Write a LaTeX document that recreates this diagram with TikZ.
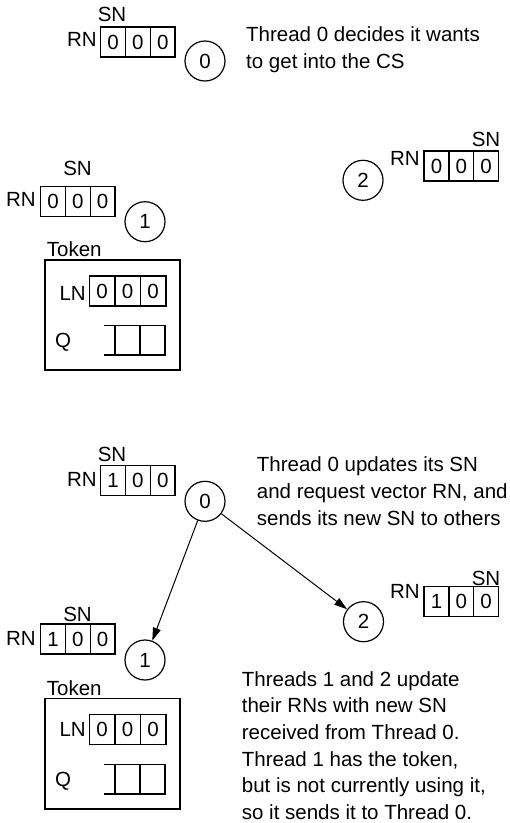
\documentclass[tikz,border=0pt]{standalone}
\usepackage{fontspec}
\setmainfont{Liberation Sans}
\usetikzlibrary{positioning,arrows.meta}
\begin{document}
\begin{tikzpicture}[x=1pt,y=-1pt,
  every node/.style={font=\fontsize{20.5}{26.7}\selectfont},
  cell/.style={draw,line width=1.5pt,minimum width=24.8pt,minimum height=30pt,inner sep=0pt,outer sep=0pt},
  lncell/.style={cell,minimum width=25.5pt},
  qcell/.style={cell,minimum width=25pt,minimum height=29.5pt},
  lab/.style={inner sep=0pt},
  thr/.style={draw,circle,line width=1.2pt,minimum size=40pt,inner sep=0pt},
  tokbox/.style={draw,line width=1.5pt,minimum width=135pt,inner sep=0pt},
  note/.style={inner sep=0pt,align=left,anchor=base west},
  msg/.style={line width=1pt,-{Triangle[length=13pt,width=8pt]}}
]
\useasboundingbox (0,0) rectangle (510,823);

% ===== Top half =====
% Thread 0
\node[lab,anchor=base] (sn0) at (112,21.7) {SN};
\node[lab,anchor=base east] (rn0) at (97,46.7) {RN};
\node[cell] (r0a) at (113.1,42) {0};
\node[cell,right=0pt of r0a] (r0b) {0};
\node[cell,right=0pt of r0b] (r0c) {0};
\node[thr] (c0) at (205,61) {0};
% anchor is the baseline of the last line
\node[note] (txt1) at (246,68.4) {Thread 0 decides it wants\\to get into the CS};

% Thread 1
\node[lab,anchor=base] (sn1) at (77.5,175) {SN};
\node[lab,anchor=base east] (rn1) at (36,206.7) {RN};
\node[cell] (r1a) at (53.1,201.7) {0};
\node[cell,right=0pt of r1a] (r1b) {0};
\node[cell,right=0pt of r1b] (r1c) {0};
\node[thr] (c1) at (145,221.7) {1};
\node[lab,anchor=base west] (tok1) at (46.7,256) {Token};
\node[tokbox,minimum height=110pt] (box1) at (112.5,315) {};
\node[lab,anchor=base east] (ln1) at (86,300) {LN};
\node[lncell] (l1a) at (102,291) {0};
\node[lncell,right=0pt of l1a] (l1b) {0};
\node[lncell,right=0pt of l1b] (l1c) {0};
\node[lab,anchor=base west] (q1) at (55,347) {Q};
\node[qcell] (q1a) at (127.5,340.3) {};
\node[qcell,right=0pt of q1a] (q1b) {};
\draw[line width=1.5pt] ([xshift=-11pt]q1a.north west) -- (q1a.north west);
\draw[line width=1.5pt] ([xshift=-11pt]q1a.south west) -- (q1a.south west);

% Thread 2
\node[lab,anchor=base] (sn2) at (486,146.7) {SN};
\node[lab,anchor=base east] (rn2) at (420,165) {RN};
\node[cell] (r2a) at (436.5,166) {0};
\node[cell,right=0pt of r2a] (r2b) {0};
\node[cell,right=0pt of r2b] (r2c) {0};
\node[thr] (c2) at (363,180.3) {2};

% ===== Bottom half =====
% Thread 0
\node[lab,anchor=base] (sn0b) at (112,461.7) {SN};
\node[lab,anchor=base east] (rn0b) at (97,486.7) {RN};
\node[cell] (r0ba) at (113.1,480.5) {1};
\node[cell,right=0pt of r0ba] (r0bb) {0};
\node[cell,right=0pt of r0bb] (r0bc) {0};
\node[thr] (c0b) at (205,501.3) {0};
\node[note] (txt2) at (256.7,525) {Thread 0 updates its SN\\and request vector RN, and\\sends its new SN to others};

% Thread 1
\node[lab,anchor=base] (sn1b) at (77.5,621.7) {SN};
\node[lab,anchor=base east] (rn1b) at (36,645) {RN};
\node[cell] (r1ba) at (53.1,639) {1};
\node[cell,right=0pt of r1ba] (r1bb) {0};
\node[cell,right=0pt of r1bb] (r1bc) {0};
\node[thr] (c1b) at (145,660) {1};
\node[lab,anchor=base west] (tok2) at (46.7,695) {Token};
\node[tokbox,minimum height=110.7pt] (box2) at (112.5,753.7) {};
\node[lab,anchor=base east] (ln2) at (86,736.7) {LN};
\node[lncell] (l2a) at (102,729.5) {0};
\node[lncell,right=0pt of l2a] (l2b) {0};
\node[lncell,right=0pt of l2b] (l2c) {0};
\node[lab,anchor=base west] (q2) at (55,786.7) {Q};
\node[qcell] (q2a) at (127.5,779.3) {};
\node[qcell,right=0pt of q2a] (q2b) {};
\draw[line width=1.5pt] ([xshift=-11pt]q2a.north west) -- (q2a.north west);
\draw[line width=1.5pt] ([xshift=-11pt]q2a.south west) -- (q2a.south west);

% Thread 2
\node[lab,anchor=base] (sn2b) at (486,585) {SN};
\node[lab,anchor=base east] (rn2b) at (420,598.3) {RN};
\node[cell] (r2ba) at (436.5,601.7) {1};
\node[cell,right=0pt of r2ba] (r2bb) {0};
\node[cell,right=0pt of r2bb] (r2bc) {0};
\node[thr] (c2b) at (363.5,621.7) {2};

\node[note] (txt3) at (241.7,819.5) {Threads 1 and 2 update\\their RNs with new SN\\received from Thread 0.\\Thread 1 has the token,\\but is not currently using it,\\so it sends it to Thread 0.};

% Messages
\draw[msg] (c0b) -- (c1b);
\draw[msg] (c0b) -- (c2b);
\end{tikzpicture}
\end{document}
